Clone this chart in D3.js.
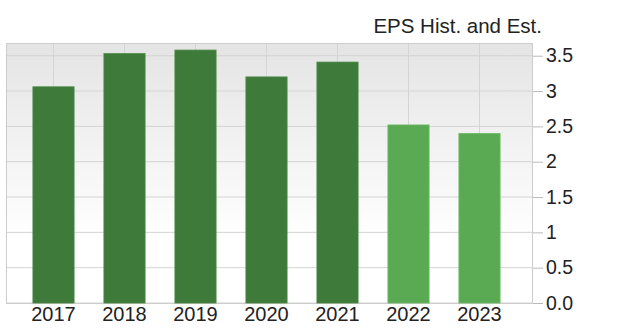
<!DOCTYPE html>
<html><head><meta charset="utf-8">
<script src="https://cdn.jsdelivr.net/npm/d3@7"></script>
<style>
html,body{margin:0;padding:0;background:#fff;}
svg{display:block;font-family:"Liberation Sans",Arial,sans-serif;}
</style></head>
<body><svg id="c" width="620" height="331"></svg>
<script>
const years = ["2017","2018","2019","2020","2021","2022","2023"];
const eps = [3.06, 3.53, 3.58, 3.20, 3.41, 2.52, 2.40];
const isEstimate = [false,false,false,false,false,true,true];
const yTicks = [0, 0.5, 1, 1.5, 2, 2.5, 3, 3.5];
const yTickLabels = ["0.0","0.5","1","1.5","2","2.5","3","3.5"];
const title = "EPS Hist. and Est.";

const svg = d3.select("#c");
const L = 6, R = 533, T = 43, B = 303;

const x = d3.scaleBand().domain(years).range([18, 515]).paddingInner(0.42).paddingOuter(0.21);
const y = d3.scaleLinear().domain([0, 3.68]).range([B, T]);

const defs = svg.append("defs");
const g = defs.append("linearGradient").attr("id","bg").attr("x1",0).attr("y1",0).attr("x2",0).attr("y2",1);
g.append("stop").attr("offset","0%").attr("stop-color","#e4e4e4");
g.append("stop").attr("offset","75%").attr("stop-color","#ffffff");
g.append("stop").attr("offset","100%").attr("stop-color","#ffffff");

svg.append("rect").attr("x",L).attr("y",T).attr("width",R-L).attr("height",B-T).attr("fill","url(#bg)");

// horizontal grid
svg.append("g").selectAll("line").data(yTicks).join("line")
  .attr("x1",L).attr("x2",R).attr("y1",d=>y(d)).attr("y2",d=>y(d))
  .attr("stroke","#d4d4d4").attr("stroke-width",1);
// vertical grid at category centers
svg.append("g").selectAll("line").data(years).join("line")
  .attr("x1",d=>x(d)+x.bandwidth()/2).attr("x2",d=>x(d)+x.bandwidth()/2)
  .attr("y1",T).attr("y2",B)
  .attr("stroke","#d4d4d4").attr("stroke-width",1);

// border
svg.append("rect").attr("x",L+0.5).attr("y",T+0.5).attr("width",R-L-1).attr("height",B-T)
  .attr("fill","none").attr("stroke","#cccccc");

// bars
svg.append("g").selectAll("rect").data(years).join("rect")
  .attr("x",d=>x(d)).attr("width",x.bandwidth())
  .attr("y",(d,i)=>y(eps[i])).attr("height",(d,i)=>y(0)-y(eps[i]))
  .attr("fill",(d,i)=>isEstimate[i]?"#5aa953":"#3e7a39")
  .attr("stroke",(d,i)=>isEstimate[i]?"#6cbb64":"#4c8a46").attr("stroke-width",0.8);

// right axis
const ya = d3.axisRight(y).tickValues(yTicks).tickFormat((d,i)=>yTickLabels[i]).tickSize(10).tickPadding(3);
const ag = svg.append("g").attr("transform",`translate(${R},0)`).call(ya);
ag.select(".domain").remove();
ag.selectAll(".tick line").attr("stroke","#bbbbbb");
ag.selectAll(".tick text").attr("fill","#222").attr("font-size","19.5px").attr("font-family","'Liberation Sans',Arial,sans-serif");

// x labels
const xa = d3.axisBottom(x).tickSize(0).tickPadding(4);
const xg = svg.append("g").attr("transform",`translate(0,${B})`).call(xa);
xg.select(".domain").remove();
xg.selectAll(".tick text").attr("fill","#222").attr("font-size","20px").attr("font-family","'Liberation Sans',Arial,sans-serif");

// title
svg.append("text").attr("x",542).attr("y",33).attr("text-anchor","end")
  .attr("fill","#222").attr("font-size","20.5px").text(title);
</script></body></html>
